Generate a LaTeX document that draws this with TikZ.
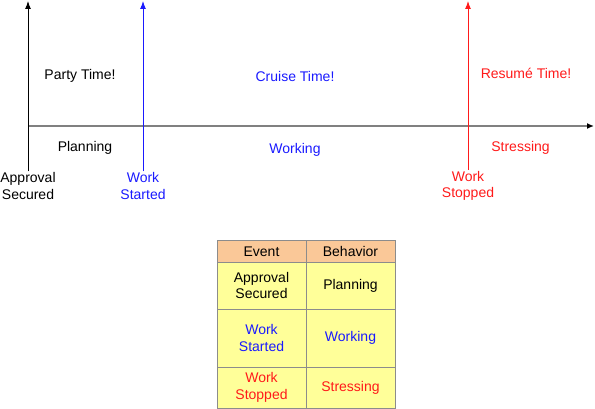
\documentclass[tikz,border=0pt]{standalone}
\usepackage{fontspec}
\setmainfont{Liberation Sans}
\usetikzlibrary{arrows.meta,positioning}
\definecolor{headfill}{HTML}{FAC898}
\definecolor{cellfill}{HTML}{FFFF99}
\definecolor{gridline}{HTML}{8C8C8C}
\definecolor{axisgray}{HTML}{808080}
\definecolor{evblue}{HTML}{1A1AFF}
\definecolor{evred}{HTML}{FF1A1A}
\tikzset{
lbl/.style={align=center,font=\fontsize{14}{16.5}\selectfont,inner sep=1pt},
axis/.style={-{Latex[length=7pt,width=6pt,black]},draw=axisgray,line width=1.6pt},
eventarrow/.style={-{Latex[length=8pt,width=6pt]},line width=1pt},
cell/.style={draw=gridline,fill=cellfill,line width=1pt,align=center,minimum width=89pt,inner sep=0pt,outer sep=0pt,font=\fontsize{14}{16.5}\selectfont},
headcell/.style={cell,fill=headfill,minimum height=21pt}
}

\begin{document}
\begin{tikzpicture}[x=1pt,y=-1pt,node distance=0pt]
\useasboundingbox (0,0) rectangle (595,409);
% time line
\coordinate (origin) at (28,126);
\coordinate (tend) at (594,126);
\draw[axis] (origin) -- (tend);

% events
\node[lbl] (approval) at (28,186) {Approval\\Secured};
\node[lbl,text=evblue] (started) at (143,186) {Work\\Started};
\node[lbl,text=evred] (stopped) at (468,186) {Work\\Stopped};
\coordinate (approvaltop) at (28,1);
\coordinate (startedtop) at (143,1);
\coordinate (stoppedtop) at (468,1);
\draw[eventarrow,black] (approval) -- (approvaltop);
\draw[eventarrow,evblue] (started) -- (startedtop);
\draw[eventarrow,evred] (stopped) -- (stoppedtop);

% phases
\node[lbl] (party) at (80,76) {Party Time!};
\node[lbl,text=evblue] (cruise) at (295,76) {Cruise Time!};
\node[lbl,text=evred] (resume) at (526,73.5) {Resumé Time!};
\node[lbl] (planning) at (85,148) {Planning};
\node[lbl,text=evblue] (working) at (295,150) {Working};
\node[lbl,text=evred] (stressing) at (520.5,147.5) {Stressing};

% table
\node[headcell] (event) at (261.5,251.5) {Event};
\node[headcell,right=of event] (behavior) {Behavior};
\node[cell,minimum height=47pt,below=of event] (ev1) {Approval\\Secured};
\node[cell,minimum height=47pt,below=of behavior] (bh1) {Planning};
\node[cell,minimum height=58pt,below=of ev1,text=evblue] (ev2) {Work\\Started};
\node[cell,minimum height=58pt,below=of bh1,text=evblue] (bh2) {Working};
\node[cell,minimum height=41pt,below=of ev2,text=evred] (ev3) {Work\\Stopped};
\node[cell,minimum height=41pt,below=of bh2,text=evred] (bh3) {Stressing};
\end{tikzpicture}
\end{document}
